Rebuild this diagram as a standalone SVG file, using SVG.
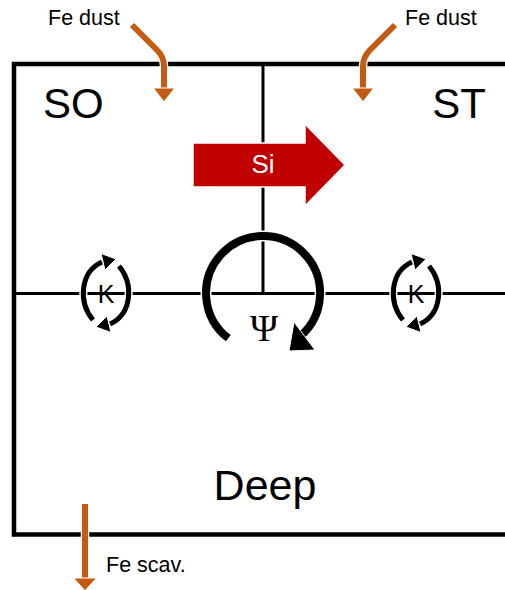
<svg xmlns="http://www.w3.org/2000/svg" width="505" height="590" viewBox="0 0 505 590">
<style>
.box{fill:none;stroke:#000;stroke-width:4.5;stroke-linecap:square}
.thin{fill:none;stroke:#000;stroke-width:3}
.lbl{font-family:"Liberation Sans",Arial,sans-serif;fill:#000}
.fe{fill:none;stroke:#C55A11;stroke-width:6}
.feo{fill:none;stroke:#fff;stroke-width:8.5}
.feh{fill:#C55A11;stroke:#fff;stroke-width:1.2}
.kw{fill:none;stroke:#fff;stroke-width:8}
.kb{fill:none;stroke:#000;stroke-width:5}
.kh{fill:#000;stroke:#fff;stroke-width:1}
</style>
<rect width="505" height="590" fill="#fff"/>
<g id="connectors">
  <path class="box" d="M505,64 H14 V534.5 H505"/>
  <path class="thin" d="M263,64 V293.5"/>
  <path class="thin" d="M14,293.5 H505"/>
</g>
<g id="SO"><text class="lbl" x="43" y="118" font-size="42">SO</text></g>
<g id="ST"><text class="lbl" x="486" y="118" font-size="42" text-anchor="end">ST</text></g>
<g id="Deep"><text class="lbl" x="265" y="500" font-size="43" text-anchor="middle">Deep</text></g>
<g id="fe-dust-left">
  <text class="lbl" x="48" y="25" font-size="21.5">Fe dust</text>
  <path class="feo" d="M132,25 L157,50 Q164,57 164,66 L164,89"/>
  <path class="fe" d="M132,25 L157,50 Q164,57 164,66 L164,89"/>
  <polygon class="feh" points="153,88 175,88 164,102"/>
</g>
<g id="fe-dust-right">
  <text class="lbl" x="405" y="25" font-size="21.5">Fe dust</text>
  <path class="feo" d="M395,25 L370,50 Q363,57 363,66 L363,89"/>
  <path class="fe" d="M395,25 L370,50 Q363,57 363,66 L363,89"/>
  <polygon class="feh" points="352,88 374,88 363,102"/>
</g>
<g id="fe-scav">
  <path class="feo" d="M85,503 V579"/>
  <path class="fe" d="M85,504 V579"/>
  <polygon class="feh" points="73,578 97,578 85,591"/>
  <text class="lbl" x="106" y="572" font-size="21.5">Fe scav.</text>
</g>
<g id="Si">
  <polygon points="193,143 305,143 305,124 345,165 305,206 305,187 193,187" fill="#C00000" stroke="#fff" stroke-width="1.5"/>
  <text class="lbl" x="263" y="173" font-size="26" text-anchor="middle" style="fill:#fff">Si</text>
</g>
<g id="Psi">
  <path d="M228.3,338.2 A57,57 0 1 1 300.5,336" fill="none" stroke="#fff" stroke-width="11"/>
  <path d="M228.3,338.2 A57,57 0 1 1 300.5,336" fill="none" stroke="#000" stroke-width="8"/>
  <polygon points="289,351 294,322 315,350" fill="#000" stroke="#fff" stroke-width="1"/>
  <text x="264" y="341" font-size="38" text-anchor="middle" font-family="Liberation Serif, Times New Roman, serif">Ψ</text>
</g>
<g id="K-left">
  <path class="kw" d="M93,320 C78,302 80,272 102,262"/>
  <path class="kw" d="M119,266 C134,284 132,314 110,324"/>
  <path class="kb" d="M93,320 C78,302 80,272 102,262"/>
  <path class="kb" d="M119,266 C134,284 132,314 110,324"/>
  <polygon class="kh" points="116,259 101,253.5 105,270"/>
  <polygon class="kh" points="96,327 111,332.5 107,316"/>
  <text class="lbl" x="106" y="303" font-size="25" text-anchor="middle">K</text>
</g>
<g id="K-right">
  <path class="kw" d="M403,320 C388,302 390,272 412,262"/>
  <path class="kw" d="M429,266 C444,284 442,314 420,324"/>
  <path class="kb" d="M403,320 C388,302 390,272 412,262"/>
  <path class="kb" d="M429,266 C444,284 442,314 420,324"/>
  <polygon class="kh" points="426,259 411,253.5 415,270"/>
  <polygon class="kh" points="406,327 421,332.5 417,316"/>
  <text class="lbl" x="416" y="303" font-size="25" text-anchor="middle">K</text>
</g>
</svg>
